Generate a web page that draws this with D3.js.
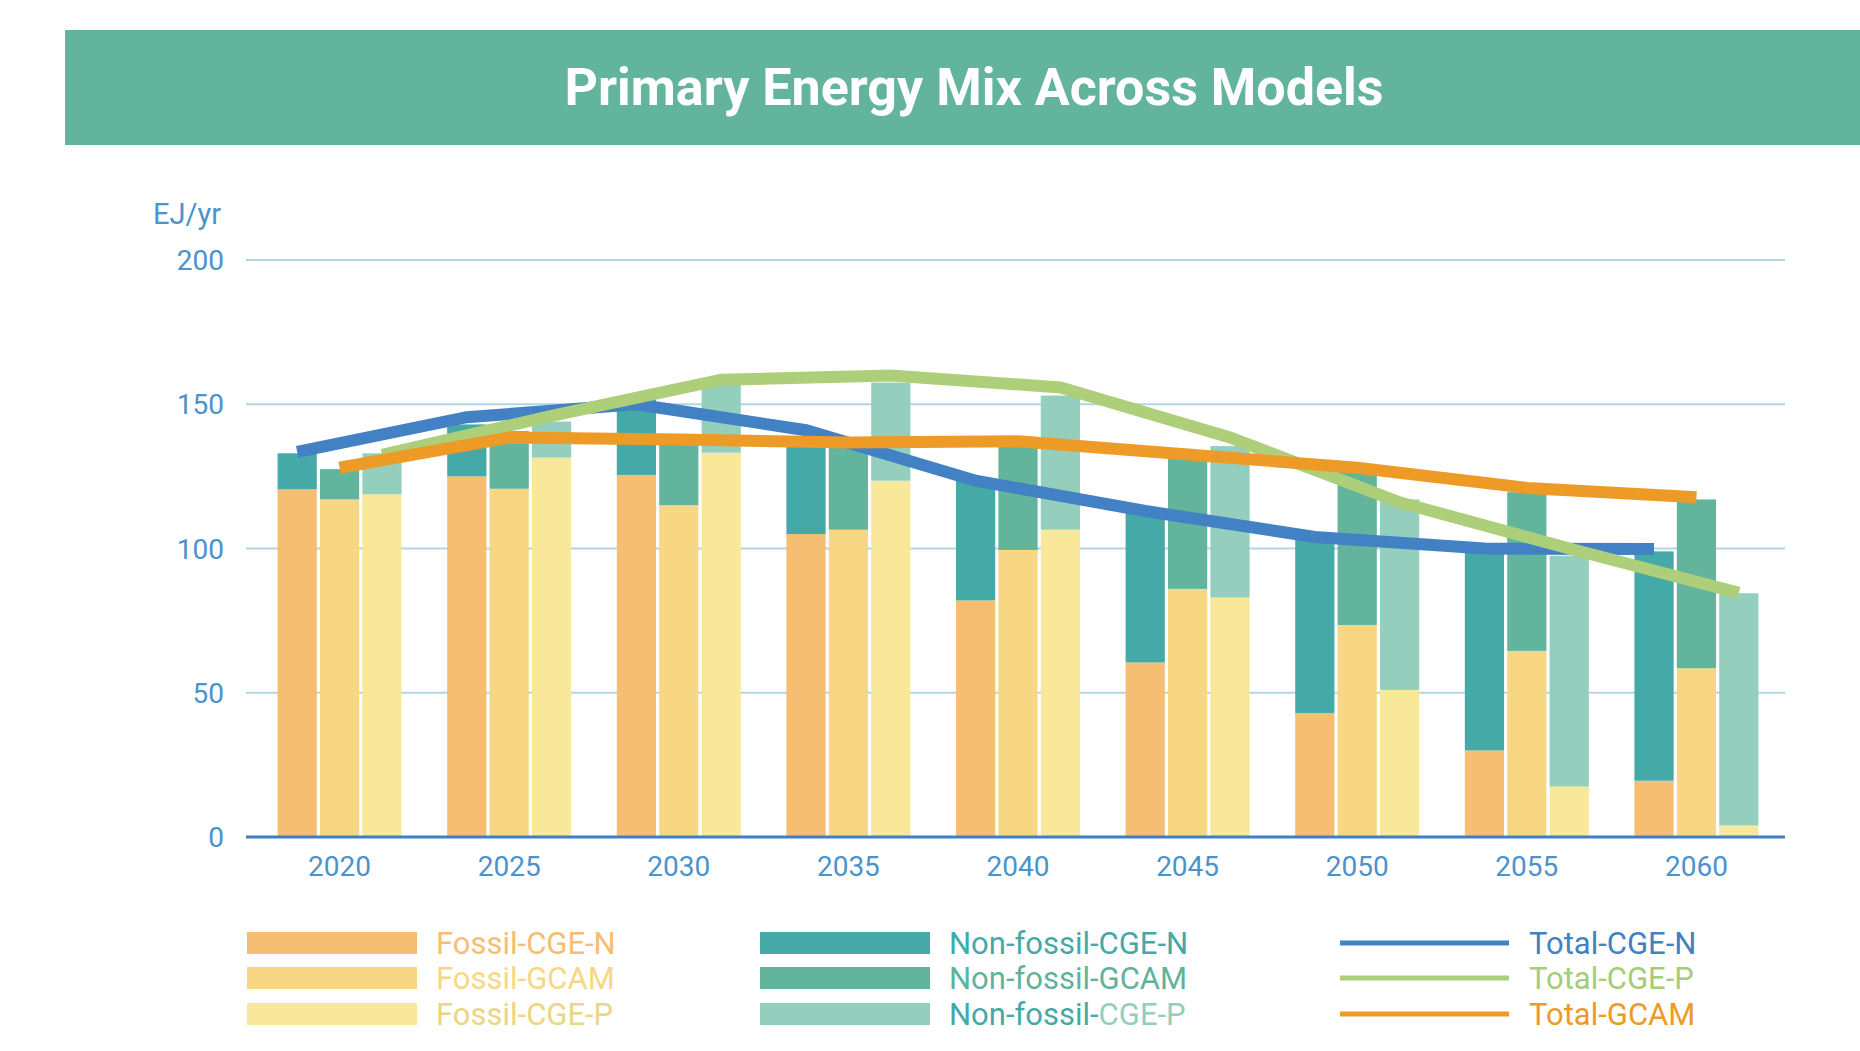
<!DOCTYPE html>
<html>
<head>
<meta charset="utf-8">
<script src="https://cdn.jsdelivr.net/npm/d3@7"></script>
<style>
  body { margin: 0; background: #fff; font-family: Roboto, "Noto Sans", sans-serif; }
</style>
</head>
<body>
<script>
// data (EJ/yr)
var years = ['2020', '2025', '2030', '2035', '2040', '2045', '2050', '2055', '2060'];
var models = ['CGE-N', 'GCAM', 'CGE-P'];
var yTicks = [0, 50, 100, 150, 200];

var fossilCGEN = [120.5, 125, 125.5, 105, 82, 60.5, 43, 30, 19.5];
var fossilGCAM = [117, 120.7, 115, 106.5, 99.5, 86, 73.5, 64.5, 58.5];
var fossilCGEP = [118.8, 131.5, 133.2, 123.5, 106.5, 83, 51, 17.5, 4];

var nonfossilCGEN = [12.5, 18, 26.5, 33, 42, 52.5, 60, 68.5, 79.5];
var nonfossilGCAM = [10.5, 20, 22, 29.5, 36.5, 48, 53, 55, 58.5];
var nonfossilCGEP = [14.2, 12.5, 24, 34, 46.5, 52.5, 66, 80, 80.5];

var totalCGEN = [133.5, 145.5, 150, 141, 123.5, 113, 104, 100, 99.8];
var totalCGEP = [132.5, 146, 158.5, 160, 155.8, 138.5, 116, 100, 84.6];
var totalGCAM = [128, 138.5, 137.8, 136.7, 137.2, 132.6, 128, 121, 117.8];

var width = 1860, height = 1051;

var svg = d3.select('body').append('svg')
    .attr('width', width)
    .attr('height', height);

// title banner
svg.append('rect')
    .attr('x', 65).attr('y', 30)
    .attr('width', width - 65).attr('height', 115)
    .attr('fill', '#62b49d');
svg.append('text')
    .attr('x', 974).attr('y', 105)
    .attr('text-anchor', 'middle')
    .attr('fill', '#fff')
    .style('font-size', '52px')
    .style('font-weight', 'bold')
    .text('Primary Energy Mix Across Models');

var x0 = d3.scalePoint().domain(years).range([249, 1787]).padding(0.534);
var x1 = d3.scaleBand().domain(models).range([-62, 62]).paddingInner(0.075);
var y = d3.scaleLinear().domain([0, 200]).range([837, 260]);

var fossilColors = ['#f5be73', '#f8d784', '#f9e79a'];
var nonfossilColors = ['#44a9a7', '#62b49d', '#94cfbd'];

// grid
svg.append('g').selectAll('line')
    .data(yTicks.filter(function(d) { return d > 0; }))
    .enter().append('line')
    .attr('x1', 246).attr('x2', 1785)
    .attr('y1', function(d) { return y(d); })
    .attr('y2', function(d) { return y(d); })
    .attr('stroke', '#b3d4e6')
    .attr('stroke-width', 2);

// y labels
svg.append('g').selectAll('text')
    .data(yTicks)
    .enter().append('text')
    .attr('x', 224)
    .attr('y', function(d) { return y(d); })
    .attr('dy', '0.36em')
    .attr('text-anchor', 'end')
    .attr('fill', '#4a93cc')
    .style('font-size', '28px')
    .text(function(d) { return d; });

svg.append('text')
    .attr('x', 221).attr('y', 224)
    .attr('text-anchor', 'end')
    .attr('fill', '#4a93cc')
    .style('font-size', '29px')
    .text('EJ/yr');

// bars
var fossil = [fossilCGEN, fossilGCAM, fossilCGEP];
var nonfossil = [nonfossilCGEN, nonfossilGCAM, nonfossilCGEP];

var barData = [];
years.forEach(function(yr, i) {
    models.forEach(function(m, j) {
        barData.push({year: yr, model: m, j: j, f: fossil[j][i], nf: nonfossil[j][i]});
    });
});

var bars = svg.append('g').attr('class', 'bars');
bars.selectAll('rect.fossil')
    .data(barData)
    .enter().append('rect')
    .attr('class', 'fossil')
    .attr('x', function(d) { return x0(d.year) + x1(d.model); })
    .attr('width', x1.bandwidth())
    .attr('y', function(d) { return y(d.f); })
    .attr('height', function(d) { return y(0) - y(d.f); })
    .attr('fill', function(d) { return fossilColors[d.j]; });

bars.selectAll('rect.nonfossil')
    .data(barData)
    .enter().append('rect')
    .attr('class', 'nonfossil')
    .attr('x', function(d) { return x0(d.year) + x1(d.model); })
    .attr('width', x1.bandwidth())
    .attr('y', function(d) { return y(d.f + d.nf); })
    .attr('height', function(d) { return y(d.f) - y(d.f + d.nf); })
    .attr('fill', function(d) { return nonfossilColors[d.j]; });

// axis baseline
svg.append('line')
    .attr('x1', 246).attr('x2', 1785)
    .attr('y1', y(0)).attr('y2', y(0))
    .attr('stroke', '#3f7fc3')
    .attr('stroke-width', 3);

// x labels
svg.append('g').selectAll('text')
    .data(years)
    .enter().append('text')
    .attr('x', function(d) { return x0(d); })
    .attr('y', 876)
    .attr('text-anchor', 'middle')
    .attr('fill', '#4a93cc')
    .style('font-size', '28px')
    .text(function(d) { return d; });

// total lines, each on its model's bar centre
var lines = [
    {model: 'CGE-N', values: totalCGEN, color: '#4181c4'},
    {model: 'CGE-P', values: totalCGEP, color: '#aecf7a'},
    {model: 'GCAM', values: totalGCAM, color: '#ee9a26'}
];

lines.forEach(function(l) {
    var line = d3.line()
        .x(function(d, i) { return x0(years[i]) + x1(l.model) + x1.bandwidth() / 2; })
        .y(function(d) { return y(d); });
    svg.append('path')
        .datum(l.values)
        .attr('d', line)
        .attr('fill', 'none')
        .attr('stroke', l.color)
        .attr('stroke-width', 12)
        .attr('stroke-linejoin', 'miter')
        .attr('stroke-linecap', 'butt');
});

// legend
var legendRows = [943, 978, 1014];
var legend = svg.append('g').style('font-size', '31px');

var fossilLabels = ['Fossil-CGE-N', 'Fossil-GCAM', 'Fossil-CGE-P'];
var fossilText = ['#f5be73', '#f8d784', '#ecd583'];
fossilLabels.forEach(function(t, i) {
    legend.append('rect')
        .attr('x', 247).attr('y', legendRows[i] - 11)
        .attr('width', 170).attr('height', 22)
        .attr('fill', fossilColors[i]);
    legend.append('text')
        .attr('x', 436).attr('y', legendRows[i])
        .attr('dy', '0.36em')
        .attr('fill', fossilText[i])
        .text(t);
});

var nfText = ['#44a9a7', '#5fb39c', '#44a9a7'];
nonfossilColors.forEach(function(c, i) {
    legend.append('rect')
        .attr('x', 760).attr('y', legendRows[i] - 11)
        .attr('width', 170).attr('height', 22)
        .attr('fill', c);
    var t = legend.append('text')
        .attr('x', 949).attr('y', legendRows[i])
        .attr('dy', '0.36em')
        .attr('fill', nfText[i]);
    if (i < 2) {
        t.text('Non-fossil-' + models[i]);
    } else {
        t.append('tspan').text('Non-fossil-');
        t.append('tspan').attr('fill', '#94cfbd').text('CGE-P');
    }
});

var lineLabels = ['Total-CGE-N', 'Total-CGE-P', 'Total-GCAM'];
var lineText = ['#4181c4', '#a6cc76', '#ee9a26'];
lines.forEach(function(l, i) {
    legend.append('line')
        .attr('x1', 1340).attr('x2', 1509)
        .attr('y1', legendRows[i]).attr('y2', legendRows[i])
        .attr('stroke', l.color)
        .attr('stroke-width', 5);
    legend.append('text')
        .attr('x', 1529).attr('y', legendRows[i])
        .attr('dy', '0.36em')
        .attr('fill', lineText[i])
        .text(lineLabels[i]);
});
</script>
</body>
</html>
